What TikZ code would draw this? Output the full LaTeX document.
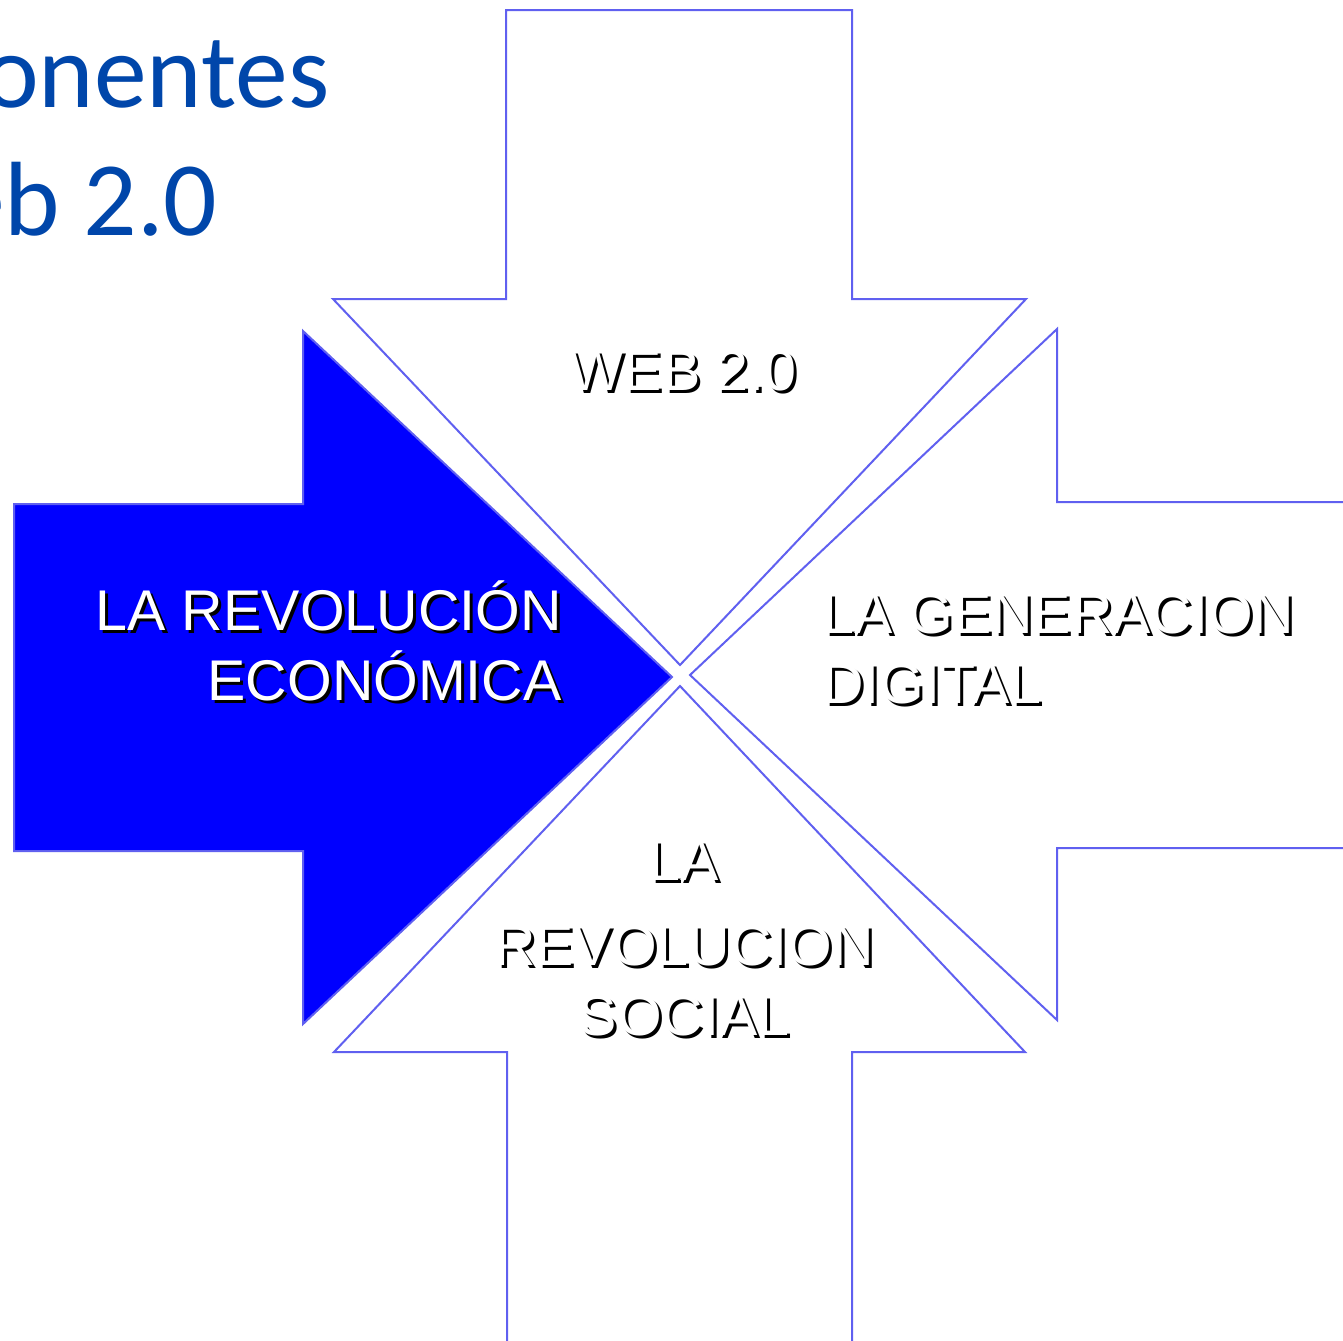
\documentclass[tikz,border=0pt]{standalone}
\usepackage{fontspec}
\setmainfont{Liberation Sans}
\newfontfamily\titlefont{Carlito}

\definecolor{edgeblue}{RGB}{96,96,240}
\definecolor{fillblue}{RGB}{0,0,255}
\definecolor{titleblue}{RGB}{0,70,170}

% white text with a black drop shadow
\newcommand{\shadowlabel}[4]{%
  \node[lbl,shd,#2] at ([shift={(3,3)}]#3) {#4};
  \node[lbl,#2] (#1) at (#3) {#4};}

\begin{document}
\begin{tikzpicture}[x=0.5pt,y=-0.5pt,
  arrowbox/.style={draw=edgeblue,line width=1pt,fill=white},
  arrowfill/.style={arrowbox,fill=fillblue},
  lbl/.style={text=white,inner sep=0pt,font=\fontsize{28.7}{35}\selectfont},
  shd/.style={text=black},
  title/.style={text=titleblue,inner sep=0pt,anchor=base east,font=\titlefont\fontsize{52.8}{64}\selectfont}]

\useasboundingbox (0,0) rectangle (1343,1340);
\clip (0,0) rectangle (1343,1340);

% Title, cut by the page edge
\node[title] (titleA) at (330,107) {Componentes};
\node[title] (titleB) at (218,235) {de la Web 2.0};

% The four arrows pointing to the centre
\draw[arrowbox] (506,10) -- (852,10) -- (852,299) -- (1026,299) -- (680,665)
  -- (333,299) -- (506,299) -- cycle;
\draw[arrowfill] (14,504) -- (303,504) -- (303,331) -- (672,677) -- (303,1024)
  -- (303,851) -- (14,851) -- cycle;
\draw[arrowbox] (1360,502) -- (1057,502) -- (1057,329) -- (690,675) -- (1057,1020)
  -- (1057,848) -- (1360,848) -- cycle;
\draw[arrowbox] (507,1360) -- (507,1052) -- (334,1052) -- (680,686) -- (1025,1052)
  -- (852,1052) -- (852,1360) -- cycle;

% Labels (base anchor sits on the last line)
\shadowlabel{web}{anchor=base}{683,390}{WEB 2.0}
\shadowlabel{economia}{anchor=base east,align=right}{562,700}{LA REVOLUCIÓN\\ECONÓMICA}
\shadowlabel{digital}{anchor=base west,align=left}{822,703}{LA GENERACION\\DIGITAL}
\shadowlabel{social}{anchor=base,align=center}{684,1035}{LA\\[7.5pt]REVOLUCION\\SOCIAL}

\end{tikzpicture}
\end{document}
